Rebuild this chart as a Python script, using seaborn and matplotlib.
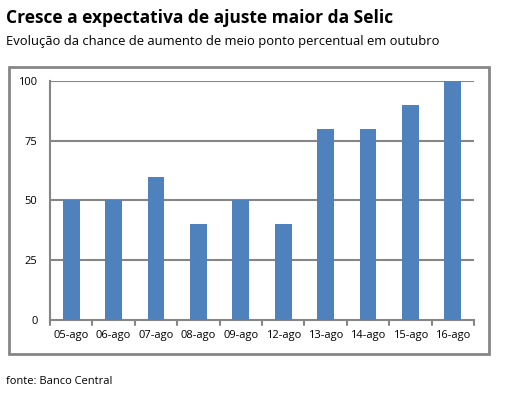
import matplotlib
matplotlib.use("Agg")
import matplotlib.pyplot as plt
import seaborn as sns
import pandas as pd
from matplotlib.patches import Rectangle

# data
datas = ['05-ago', '06-ago', '07-ago', '08-ago', '09-ago',
         '12-ago', '13-ago', '14-ago', '15-ago', '16-ago']
chance = [50, 50, 60, 40, 50, 40, 80, 80, 90, 100]
yticks = [0, 25, 50, 75, 100]

df = pd.DataFrame({'data': datas, 'chance': chance})

sns.set_style("white")
plt.rcParams['font.family'] = ['Open Sans', 'DejaVu Sans']
plt.rcParams['text.color'] = 'black'
plt.rcParams['xtick.color'] = 'black'
plt.rcParams['ytick.color'] = 'black'

W, H = 517, 393
fig = plt.figure(figsize=(W / 100, H / 100), dpi=100)
ax = fig.add_axes([50 / W, 1 - 320 / H, 424 / W, (320 - 81) / H])

sns.barplot(data=df, x='data', y='chance', color='#4F81BD', saturation=1,
            width=0.4, ax=ax, zorder=3, edgecolor='none', linewidth=0)

grid_c = '#868686'
ax.set_ylim(0, 100)
ax.set_xlim(-0.5, len(datas) - 0.5)
ax.set_yticks(yticks)
ax.set_yticklabels([str(v) for v in yticks], fontsize=8)
ax.tick_params(axis='x', labelsize=8, length=0, pad=7)
ax.tick_params(axis='y', length=5, color=grid_c, width=1.5, pad=4, direction='out')
for v in yticks[1:]:
    ax.axhline(v, color=grid_c, lw=1.5, zorder=1)
# category boundary ticks on x axis
for i in range(len(datas) + 1):
    ax.plot([i - 0.5, i - 0.5], [0, -2.2], color=grid_c, lw=1.5, clip_on=False, zorder=4)
ax.set_xlabel('')
ax.set_ylabel('')
for s in ['top', 'right']:
    ax.spines[s].set_visible(False)
for s in ['left', 'bottom']:
    ax.spines[s].set_color(grid_c)
    ax.spines[s].set_linewidth(1.5)

# outer chart frame
fig.patches.append(Rectangle((9 / W, 1 - 354 / H), 480 / W, 287 / H,
                             transform=fig.transFigure, fill=False,
                             edgecolor=grid_c, lw=2))

fig.text(6 / W, 1 - 18 / H, 'Cresce a expectativa de ajuste maior da Selic',
         fontsize=12.5, fontweight='bold', va='center', ha='left')
fig.text(6 / W, 1 - 42 / H, 'Evolução da chance de aumento de meio ponto percentual em outubro',
         fontsize=9.4, va='center', ha='left')
fig.text(6 / W, 1 - 381 / H, 'fonte: Banco Central', fontsize=8, va='center', ha='left')

fig.savefig('out.png', dpi=100)
